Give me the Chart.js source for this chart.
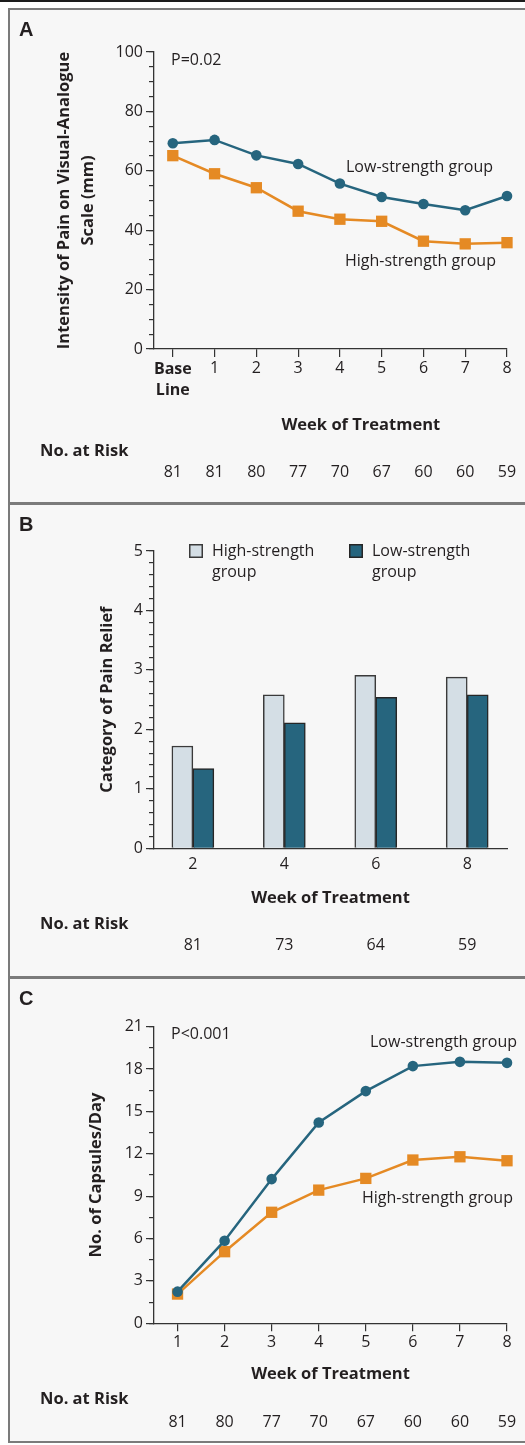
<!DOCTYPE html>
<html>
<head>
<meta charset="utf-8">
<script src="https://cdn.jsdelivr.net/npm/chart.js@4.4.1/dist/chart.umd.min.js"></script>
<style>
  html, body { margin: 0; padding: 0; background: #fff; }
  body { width: 525px; height: 1445px; position: relative; overflow: hidden; }
  .topline { position: absolute; left: 0; top: 0; width: 525px; height: 2px; background: #1c1c1c; }
  .frame { position: absolute; left: 8px; top: 8px; width: 530px; height: 1431px; border: 2.5px solid #7b7b7b; background: #f7f7f7; }
  .sep { position: absolute; left: 8px; width: 525px; height: 2.5px; background: #7b7b7b; }
  canvas { position: absolute; left: 10px; }
</style>
</head>
<body>
<div class="topline"></div>
<div class="frame"></div>
<div class="sep" style="top:502px"></div>
<div class="sep" style="top:976px"></div>
<canvas id="panelA" width="515" height="492" style="top:10px"></canvas>
<canvas id="panelB" width="515" height="472" style="top:504px"></canvas>
<canvas id="panelC" width="515" height="464" style="top:978px"></canvas>
<script>
// Panel A: pain intensity (VAS, mm)
const weeksA = [0, 1, 2, 3, 4, 5, 6, 7, 8];
const painLow = [69.3, 70.4, 65.2, 62.3, 55.7, 51.2, 48.8, 46.7, 51.5];
const painHigh = [65.1, 59.0, 54.3, 46.4, 43.7, 43.0, 36.3, 35.4, 35.8];
const riskA = [81, 81, 80, 77, 70, 67, 60, 60, 59];

// Panel B: category of pain relief
const weeksB = [2, 4, 6, 8];
const reliefHigh = [1.72, 2.58, 2.91, 2.88];
const reliefLow = [1.34, 2.11, 2.54, 2.58];
const riskB = [81, 73, 64, 59];

// Panel C: capsules per day
const weeksC = [1, 2, 3, 4, 5, 6, 7, 8];
const capsLow = [2.24, 5.85, 10.21, 14.22, 16.44, 18.21, 18.51, 18.44];
const capsHigh = [2.07, 5.07, 7.86, 9.43, 10.26, 11.56, 11.79, 11.51];
const riskC = [81, 80, 77, 70, 67, 60, 60, 59];

const FAMILY = '"Open Sans", "Noto Sans", sans-serif';
const INK = '#231f20';
const AXIS = '#333333';
const BLUE = '#26657e';
const ORANGE = '#e58a24';
const PALE = '#d4dee5';

Chart.defaults.font.family = FAMILY;
Chart.defaults.color = INK;

const pts = (xs, ys) => xs.map((x, i) => ({ x: x, y: ys[i] }));
const fixTicks = vals => scale => { scale.ticks = vals.map(v => ({ value: v })); };

// texts that sit around the plot: panel letter, x title, at-risk row, notes, legend
function decor(cfg) {
  return {
    id: 'decor',
    afterDraw(chart) {
      const ctx = chart.ctx;
      const xs = chart.scales.x;
      ctx.save();
      ctx.fillStyle = INK;
      ctx.textBaseline = 'middle';

      ctx.font = 'bold 20px "Liberation Sans", Arial, sans-serif';
      ctx.textAlign = 'left';
      ctx.fillText(cfg.letter, 9, cfg.letterY);

      ctx.font = 'bold 16.5px ' + FAMILY;
      ctx.textAlign = 'center';
      const tx = cfg.titleSpan
        ? (xs.getPixelForValue(cfg.titleSpan[0]) + xs.getPixelForValue(cfg.titleSpan[1])) / 2
        : (xs.left + xs.right) / 2;
      ctx.fillText('Week of Treatment', tx, cfg.titleY);
      ctx.textAlign = 'left';
      ctx.fillText('No. at Risk', 30, cfg.riskLabelY);

      ctx.font = '16px ' + FAMILY;
      ctx.textAlign = 'center';
      cfg.riskAt.forEach((w, i) => {
        ctx.fillText(String(cfg.risk[i]), xs.getPixelForValue(w), cfg.riskY);
      });

      ctx.textAlign = 'left';
      (cfg.notes || []).forEach(n => ctx.fillText(n.text, n.x, n.y));

      (cfg.legend || []).forEach(item => {
        const ds = chart.data.datasets[item.ds];
        ctx.fillStyle = ds.backgroundColor;
        ctx.fillRect(item.x, item.y - 7, 14, 14);
        ctx.strokeStyle = ds.borderColor;
        ctx.lineWidth = 1.5;
        ctx.strokeRect(item.x + 0.75, item.y - 6.25, 12.5, 12.5);
        ctx.fillStyle = INK;
        item.lines.forEach((t, k) => ctx.fillText(t, item.x + 23, item.y + k * 21));
      });
      ctx.restore();
    }
  };
}

function yAxes(min, max, step, minorStep, title, titlePad) {
  return {
    y: {
      type: 'linear', position: 'left', weight: 1, min: min, max: max,
      afterFit: s => { s.width = 114; },
      ticks: { stepSize: step, padding: 3, color: INK, font: { size: 16 } },
      grid: { drawOnChartArea: false, drawTicks: true, tickLength: 8, color: AXIS, lineWidth: 1.2 },
      border: { display: true, color: AXIS, width: 1.3 },
      title: {
        display: true, text: title, color: INK,
        font: { size: 16.5, weight: 'bold', lineHeight: 24 / 16.5 },
        padding: { top: titlePad, bottom: 0 }
      }
    },
    yMinor: {
      type: 'linear', position: 'left', weight: 0, min: min, max: max,
      afterFit: s => { s.width = 0; },
      ticks: { stepSize: minorStep, display: false },
      grid: { drawOnChartArea: false, drawTicks: true, tickLength: 5, color: AXIS, lineWidth: 1.2 },
      border: { display: false }
    }
  };
}

function lineSet(label, data, color, style, radius) {
  return {
    label: label, data: data, borderColor: color, backgroundColor: color,
    borderWidth: 2.5, tension: 0, pointStyle: style, pointRadius: radius,
    pointHoverRadius: radius, pointBorderWidth: 0, clip: false
  };
}

const common = {
  responsive: false, animation: false, events: [],
  plugins: { legend: { display: false }, tooltip: { enabled: false } }
};

// ---- A ----
new Chart(document.getElementById('panelA'), {
  type: 'line',
  data: {
    datasets: [
      lineSet('Low-strength group', pts(weeksA, painLow), BLUE, 'circle', 5.3),
      lineSet('High-strength group', pts(weeksA, painHigh), ORANGE, 'rect', 8)
    ]
  },
  options: Object.assign({}, common, {
    layout: { padding: { left: 30, top: 42, right: 18, bottom: 0 } },
    scales: Object.assign({
      x: {
        type: 'linear', min: -0.45, max: 8,
        afterFit: s => { s.height = 153; },
        afterBuildTicks: fixTicks(weeksA),
        ticks: {
          padding: 1.5, color: INK,
          callback: v => v === 0 ? ['Base', 'Line'] : String(v),
          font: c => c.tick && c.tick.value === 0
            ? { size: 16, weight: 'bold', lineHeight: 1.35 }
            : { size: 16, lineHeight: 1.2 }
        },
        grid: { drawOnChartArea: false, drawTicks: true, tickLength: 8, color: AXIS, lineWidth: 1.2 },
        border: { display: true, color: AXIS, width: 1.3 }
      }
    }, yAxes(0, 100, 20, 5, ['Intensity of Pain on Visual-Analogue', 'Scale (mm)'], 12))
  }),
  plugins: [decor({
    letter: 'A', letterY: 20,
    titleSpan: [1, 8], titleY: 415,
    riskLabelY: 441, riskY: 462, riskAt: weeksA, risk: riskA,
    notes: [
      { text: 'P=0.02', x: 161, y: 50 },
      { text: 'Low-strength group', x: 336, y: 157 },
      { text: 'High-strength group', x: 335, y: 251 }
    ]
  })]
});

// ---- B ----
new Chart(document.getElementById('panelB'), {
  type: 'bar',
  data: {
    labels: weeksB,
    datasets: [
      { label: 'High-strength group', data: reliefHigh, backgroundColor: PALE, borderColor: '#3a3a3a', borderWidth: 1.5, barThickness: 21 },
      { label: 'Low-strength group', data: reliefLow, backgroundColor: BLUE, borderColor: '#262626', borderWidth: 1.5, barThickness: 21 }
    ]
  },
  options: Object.assign({}, common, {
    layout: { padding: { left: 30, top: 47, right: 18, bottom: 0 } },
    scales: Object.assign({
      x: {
        type: 'linear', min: 1.15, max: 8.87, offset: false,
        afterFit: s => { s.height = 127.7; },
        afterBuildTicks: fixTicks(weeksB),
        ticks: { padding: 6.5, color: INK, font: { size: 16 } },
        grid: { display: true, drawOnChartArea: false, drawTicks: false },
        border: { display: true, color: AXIS, width: 1.3 }
      }
    }, yAxes(0, 5, 1, 0.2, 'Category of Pain Relief', 55))
  }),
  plugins: [decor({
    letter: 'B', letterY: 21,
    titleY: 394, riskLabelY: 420, riskY: 441, riskAt: weeksB, risk: riskB,
    legend: [
      { ds: 0, x: 179, y: 47, lines: ['High-strength', 'group'] },
      { ds: 1, x: 339, y: 47, lines: ['Low-strength', 'group'] }
    ]
  })]
});

// ---- C ----
new Chart(document.getElementById('panelC'), {
  type: 'line',
  data: {
    datasets: [
      lineSet('Low-strength group', pts(weeksC, capsLow), BLUE, 'circle', 5.3),
      lineSet('High-strength group', pts(weeksC, capsHigh), ORANGE, 'rect', 8)
    ]
  },
  options: Object.assign({}, common, {
    layout: { padding: { left: 30, top: 48.7, right: 18, bottom: 0 } },
    scales: Object.assign({
      x: {
        type: 'linear', min: 0.5, max: 8,
        afterFit: s => { s.height = 118.7; },
        afterBuildTicks: fixTicks(weeksC),
        ticks: { padding: 1.5, color: INK, font: { size: 16 } },
        grid: { drawOnChartArea: false, drawTicks: true, tickLength: 8, color: AXIS, lineWidth: 1.2 },
        border: { display: true, color: AXIS, width: 1.3 }
      }
    }, yAxes(0, 21, 3, 1.5, 'No. of Capsules/Day', 44))
  }),
  plugins: [decor({
    letter: 'C', letterY: 21,
    titleY: 396, riskLabelY: 421, riskY: 444, riskAt: weeksC, risk: riskC,
    notes: [
      { text: 'P<0.001', x: 161, y: 56 },
      { text: 'Low-strength group', x: 360, y: 64 },
      { text: 'High-strength group', x: 352, y: 220 }
    ]
  })]
});
</script>
</body>
</html>
